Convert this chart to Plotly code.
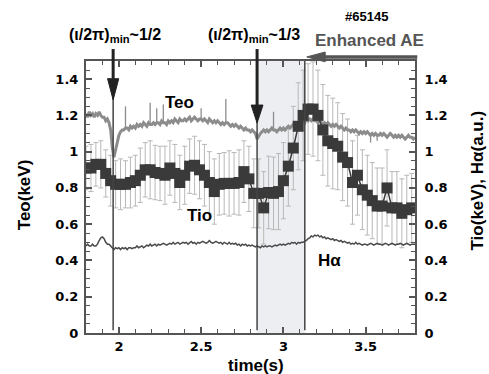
import numpy as np
import plotly.graph_objects as go

# ---------------- data ----------------
X_RANGE = [1.8, 3.8]
Y_RANGE = [0.0, 1.5]

dense_t0 = 1.80
dense_dt = 0.01

teo = [
    1.21,1.19,1.22,1.20,1.21,1.19,1.21,1.20,1.22,1.20,
    1.19,1.19,1.17,1.18,1.16,1.12,1.02,0.97,1.01,1.06,
    1.09,1.11,1.12,1.12,1.13,1.13,1.12,1.14,1.13,1.14,
    1.13,1.15,1.14,1.15,1.14,1.16,1.15,1.14,1.16,1.15,
    1.15,1.16,1.15,1.16,1.16,1.15,1.17,1.16,1.16,1.15,
    1.17,1.16,1.17,1.16,1.18,1.17,1.16,1.18,1.17,1.17,
    1.18,1.17,1.18,1.19,1.17,1.18,1.19,1.18,1.17,1.18,
    1.18,1.17,1.18,1.17,1.16,1.18,1.17,1.16,1.17,1.16,
    1.17,1.16,1.15,1.16,1.15,1.16,1.16,1.15,1.14,1.15,
    1.14,1.15,1.14,1.13,1.14,1.13,1.12,1.13,1.12,1.12,
    1.11,1.12,1.11,1.10,1.07,1.09,1.10,1.11,1.12,1.11,
    1.12,1.11,1.12,1.13,1.12,1.12,1.11,1.12,1.13,1.12,
    1.13,1.12,1.13,1.14,1.13,1.14,1.15,1.14,1.15,1.16,
    1.15,1.16,1.17,1.16,1.18,1.17,1.18,1.17,1.18,1.17,
    1.17,1.16,1.17,1.16,1.15,1.16,1.15,1.16,1.15,1.14,
    1.15,1.14,1.15,1.14,1.13,1.14,1.13,1.12,1.13,1.12,
    1.12,1.11,1.12,1.11,1.12,1.11,1.10,1.11,1.10,1.11,
    1.10,1.11,1.10,1.09,1.10,1.09,1.10,1.09,1.09,1.10,
    1.09,1.10,1.09,1.08,1.09,1.10,1.09,1.08,1.09,1.08,
    1.09,1.08,1.09,1.08,1.07,1.08,1.09,1.08,1.08,1.07,1.08,
]
# thin spikes on the Teo trace: time, extreme value
teo_spike_t = [2.04, 2.19, 2.23, 2.27, 2.50, 2.65, 2.94, 3.53, 3.57]
teo_spike_v = [1.25, 1.27, 1.24, 1.26, 1.24, 1.29, 1.22, 1.05, 1.06]

halpha = [
    0.48,0.49,0.48,0.48,0.49,0.48,0.48,0.49,0.51,0.525,
    0.53,0.52,0.50,0.49,0.49,0.48,0.47,0.46,0.47,0.465,
    0.47,0.46,0.47,0.465,0.47,0.46,0.47,0.47,0.465,0.47,
    0.47,0.48,0.47,0.475,0.48,0.47,0.48,0.485,0.48,0.49,
    0.48,0.485,0.49,0.48,0.49,0.485,0.49,0.495,0.49,0.485,
    0.49,0.495,0.49,0.50,0.49,0.495,0.50,0.49,0.495,0.50,
    0.495,0.50,0.49,0.50,0.505,0.495,0.50,0.49,0.50,0.495,
    0.50,0.505,0.50,0.495,0.50,0.51,0.50,0.495,0.50,0.505,
    0.50,0.495,0.50,0.49,0.50,0.495,0.49,0.50,0.49,0.495,
    0.49,0.495,0.485,0.49,0.48,0.49,0.485,0.49,0.48,0.485,
    0.48,0.485,0.48,0.475,0.48,0.475,0.47,0.48,0.475,0.48,
    0.475,0.48,0.48,0.475,0.48,0.485,0.48,0.485,0.49,0.485,
    0.49,0.485,0.49,0.495,0.49,0.50,0.495,0.50,0.49,0.50,
    0.495,0.50,0.50,0.505,0.51,0.52,0.525,0.535,0.53,0.54,
    0.535,0.54,0.53,0.535,0.525,0.53,0.52,0.525,0.52,0.515,
    0.52,0.51,0.515,0.51,0.505,0.51,0.50,0.505,0.50,0.495,
    0.50,0.49,0.495,0.49,0.50,0.49,0.495,0.49,0.485,0.49,
    0.49,0.485,0.49,0.495,0.49,0.485,0.49,0.495,0.49,0.49,
    0.485,0.49,0.495,0.49,0.485,0.49,0.495,0.49,0.485,0.49,
    0.49,0.495,0.49,0.485,0.49,0.495,0.49,0.485,0.49,0.49,0.49,
]

tio_t0 = 1.80
tio_dt = 0.03
tio = [
    0.91,0.91,0.93,0.93,0.88,0.84,0.82,0.82,0.82,0.83,0.84,
    0.87,0.90,0.90,0.885,0.88,0.87,0.91,0.88,0.83,0.87,0.92,0.925,0.90,
    0.87,0.83,0.78,0.82,0.825,0.825,0.825,0.83,0.89,0.85,0.77,0.77,0.69,
    0.775,0.77,0.78,0.84,0.92,1.02,1.14,
    1.20,1.235,1.235,1.20,1.12,1.06,1.045,1.03,0.97,0.94,0.83,
    0.87,0.79,0.76,0.73,0.70,0.70,
    0.80,0.69,0.69,0.66,0.68,0.69,
]
tio_err = [
    0.12,0.13,0.12,0.13,0.13,0.14,0.13,0.14,0.13,0.14,0.14,
    0.15,0.15,0.16,0.15,0.15,0.16,0.15,0.16,0.15,0.16,0.15,0.16,0.16,
    0.17,0.17,0.18,0.17,0.17,0.18,0.17,0.18,0.17,0.18,0.19,0.19,0.20,
    0.20,0.20,0.21,0.21,0.22,0.23,0.24,
    0.25,0.25,0.26,0.25,0.25,0.25,0.25,0.24,0.24,0.24,0.23,
    0.22,0.22,0.22,0.21,0.21,0.21,
    0.21,0.20,0.20,0.19,0.19,0.19,
]

x_ticks = [2, 2.5, 3, 3.5]
x_tick_text = ["2", "2.5", "3", "3.5"]
y_ticks = [0, 0.2, 0.4, 0.6, 0.8, 1.0, 1.2, 1.4]
y_tick_text = ["0", "0.2", "0.4", "0.6", "0.8", "1", "1.2", "1.4"]

t_rat_half = 1.965      # (iota/2pi)_min ~ 1/2
t_rat_third = 2.84      # (iota/2pi)_min ~ 1/3
t_ae_start = 3.13       # enhanced AE onset

# ---------------- figure ----------------
t_dense = np.round(dense_t0 + dense_dt * np.arange(len(teo)), 4)
t_tio = np.round(tio_t0 + tio_dt * np.arange(len(tio)), 4)

AX = "#555555"
BOLD = "Liberation Sans"
TICKF = dict(family="DejaVu Sans", size=13, color="black", weight="bold")

def xp(x):
    return (x - X_RANGE[0]) / (X_RANGE[1] - X_RANGE[0])

fig = go.Figure()

fig.add_trace(go.Scatter(
    x=t_tio, y=tio, mode="markers",
    marker=dict(size=1, color="rgba(0,0,0,0)"),
    error_y=dict(type="data", array=tio_err, color="#b8b8b8", thickness=1, width=2.5),
    showlegend=False, hoverinfo="skip"))

fig.add_trace(go.Scatter(x=t_dense, y=teo, mode="lines",
                         line=dict(color="#8c8c8c", width=3), showlegend=False))
sx, sy = [], []
for ts, vs in zip(teo_spike_t, teo_spike_v):
    base = teo[int(round((ts - dense_t0) / dense_dt))]
    sx += [ts, ts, None]
    sy += [base, vs, None]
fig.add_trace(go.Scatter(x=sx, y=sy, mode="lines", line=dict(color="#8c8c8c", width=1.3),
                         showlegend=False, hoverinfo="skip"))

fig.add_trace(go.Scatter(x=t_dense, y=halpha, mode="lines",
                         line=dict(color="#4a4a4a", width=1.5), showlegend=False))
fig.add_trace(go.Scatter(x=t_tio, y=tio, mode="lines+markers",
                         line=dict(color="#3a3a3a", width=1.5),
                         marker=dict(symbol="square", size=11, color="#3a3a3a"),
                         showlegend=False))
fig.add_trace(go.Scatter(x=[X_RANGE[0]], y=[Y_RANGE[0]], yaxis="y2", mode="markers",
                         marker=dict(size=1, color="rgba(0,0,0,0)"),
                         showlegend=False, hoverinfo="skip"))

shapes = []
shapes.append(dict(type="rect", xref="x", yref="paper", x0=t_rat_third, x1=t_ae_start,
                   y0=0, y1=1, fillcolor="#eceef2", line=dict(width=0), layer="below"))
for xv in (t_rat_half, t_rat_third, t_ae_start):
    shapes.append(dict(type="line", xref="x", yref="paper", x0=xv, x1=xv, y0=0.01, y1=1,
                       line=dict(color="#444444", width=1.5)))

def down_arrow(xv, y_top, y_base, y_tip, half_w):
    xpv = xp(xv)
    shapes.append(dict(type="line", xref="paper", yref="paper", x0=xpv, x1=xpv,
                       y0=y_top, y1=y_base, line=dict(color="#222222", width=3)))
    shapes.append(dict(type="path", xref="paper", yref="paper",
                       path=f"M {xpv-half_w},{y_base} L {xpv+half_w},{y_base} L {xpv},{y_tip} Z",
                       fillcolor="#222222", line=dict(color="#222222", width=1)))

down_arrow(t_rat_half, 1.044, 0.935, 0.857, 0.017)
down_arrow(t_rat_third, 1.044, 0.838, 0.772, 0.018)

ae_tip = xp(t_ae_start) + 0.006
shapes.append(dict(type="line", xref="paper", yref="paper", x0=1.007, x1=ae_tip + 0.05,
                   y0=1.015, y1=1.015, line=dict(color="#555555", width=3.5)))
shapes.append(dict(type="path", xref="paper", yref="paper",
                   path=f"M {ae_tip},1.015 L {ae_tip+0.056},1.033 L {ae_tip+0.056},0.997 Z",
                   fillcolor="#555555", line=dict(color="#555555", width=1)))

ann = []
def txt(x, y, s, size=17, color="black", xref="paper", yref="paper", xanchor="center",
        yanchor="middle", angle=0, family=BOLD):
    ann.append(dict(x=x, y=y, xref=xref, yref=yref, text=s, showarrow=False,
                    xanchor=xanchor, yanchor=yanchor, textangle=angle,
                    font=dict(family=family, size=size, color=color, weight="bold")))

txt(0.088, 1.092, "(ι/2π)<sub>min</sub>~1/2", size=16)
txt(0.512, 1.092, "(ι/2π)<sub>min</sub>~1/3", size=16)
txt(0.854, 1.165, "#65145", size=13)
txt(0.863, 1.077, "Enhanced AE", size=17, color="#555555")
txt(2.37, 1.273, "Teo", xref="x", yref="y")
txt(2.49, 0.647, "Tio", xref="x", yref="y")
txt(3.28, 0.40, "Hα", xref="x", yref="y")
txt(-0.188, 0.507, "Teo(keV)", angle=-90)
txt(1.19, 0.559, "Tio(keV), Hα(a.u.)", angle=-90)
txt(0.517, -0.118, "time(s)")

common_y = dict(range=Y_RANGE, tickvals=y_ticks, ticktext=y_tick_text, ticks="inside",
                ticklen=6, tickwidth=1.5, tickcolor=AX, showline=True, linecolor=AX,
                linewidth=2, showgrid=False, zeroline=False, tickfont=TICKF,
                minor=dict(ticks="inside", ticklen=4, dtick=0.05, tickcolor=AX, tickwidth=1,
                           showgrid=False))

fig.update_layout(
    width=489, height=374,
    margin=dict(l=86, r=74, t=61, b=41),
    paper_bgcolor="white", plot_bgcolor="white",
    showlegend=False,
    xaxis=dict(range=X_RANGE, tickvals=x_ticks, ticktext=x_tick_text, ticks="inside",
               ticklen=6, tickwidth=1.5, tickcolor=AX, showline=True, linecolor=AX,
               linewidth=2, mirror="ticks", showgrid=False, zeroline=False, tickfont=TICKF,
               minor=dict(ticks="inside", ticklen=4, dtick=0.1, tickcolor=AX, tickwidth=1,
                          showgrid=False)),
    yaxis=dict(**common_y, side="left", ticklabelstandoff=3),
    yaxis2=dict(**common_y, side="right", overlaying="y", ticklabelstandoff=5),
    shapes=shapes,
    annotations=ann,
)

fig.write_html("out.html", config={"displayModeBar": False},
               post_script="document.body.style.margin='0';")
